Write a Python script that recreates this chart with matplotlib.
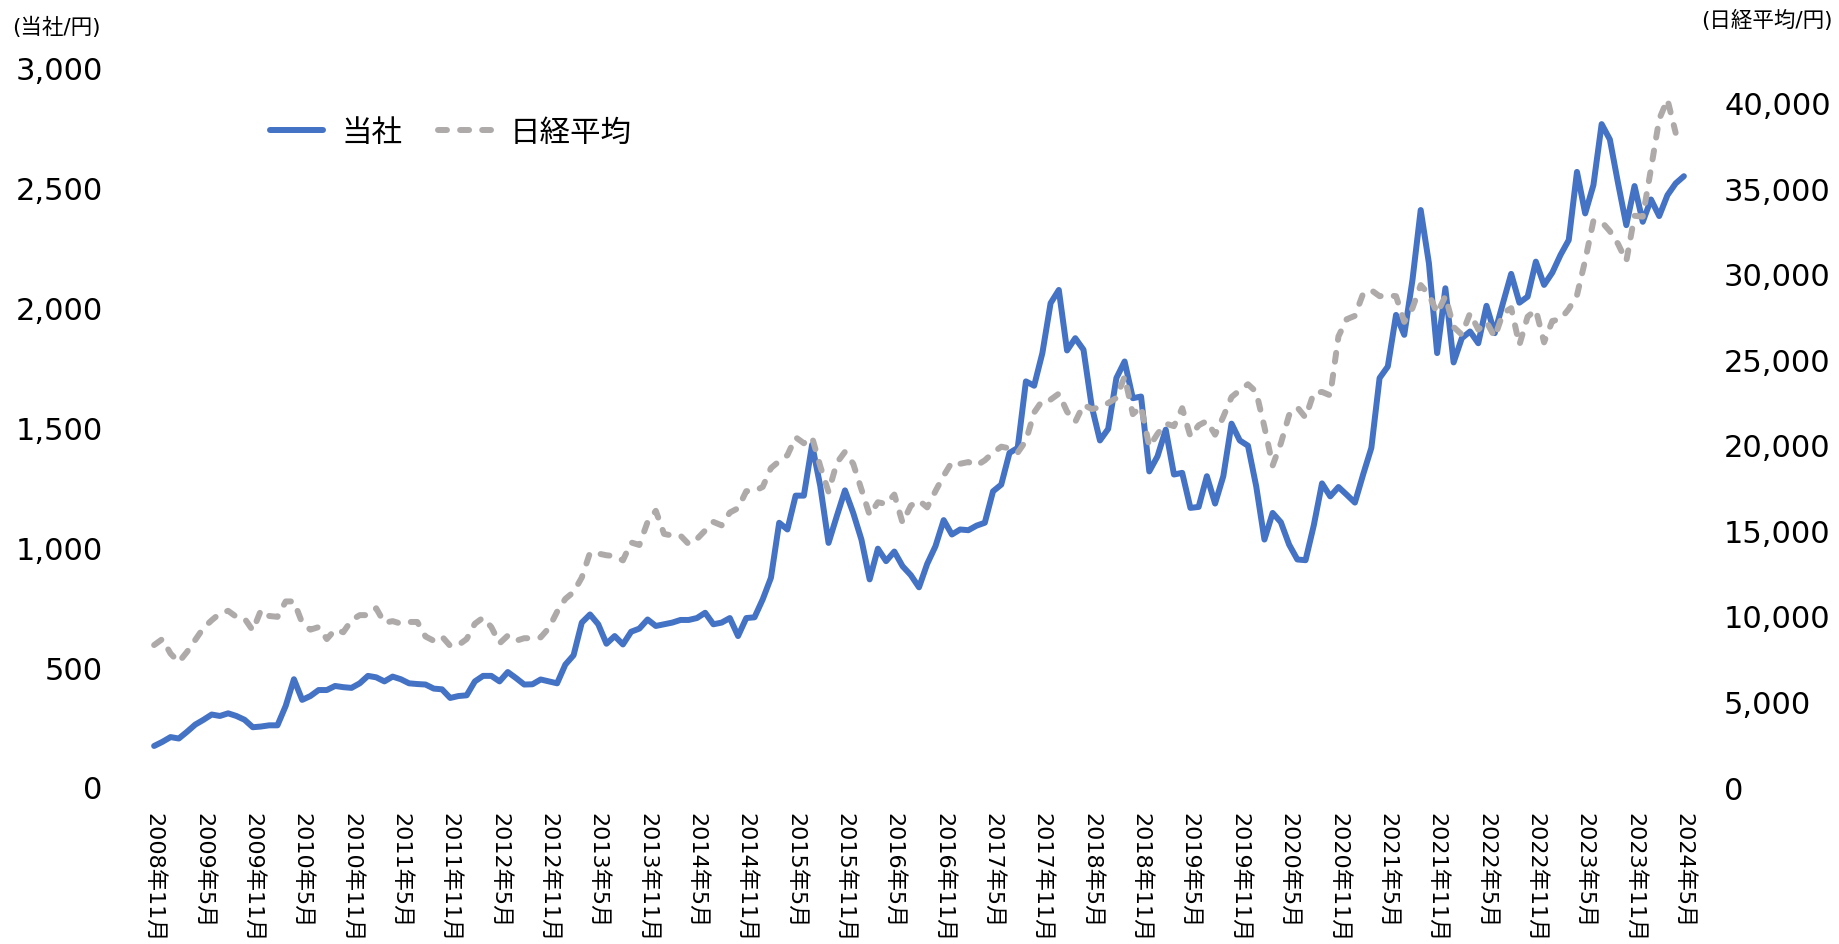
import numpy as np
import pandas as pd
import matplotlib
matplotlib.use("Agg")
from matplotlib import pyplot as plt

plt.rcParams['font.family'] = ['DejaVu Sans', 'Noto Sans CJK JP']

# monthly, 2008-11 .. 2024-05
months = pd.date_range("2008-11-01", "2024-05-01", freq="MS")

company = [
    171, 188,                                                         # 2008 Nov-Dec
    208, 202, 230, 260, 280, 302, 296, 307, 296, 280, 249, 252,       # 2009
    257, 257, 338, 449, 363, 379, 404, 404, 421, 416, 413, 432,       # 2010
    463, 457, 440, 460, 449, 432, 429, 427, 410, 407, 371, 379,       # 2011
    382, 440, 463, 463, 440, 479, 454, 427, 428, 448, 440, 432,       # 2012
    510, 549, 685, 719, 678, 597, 629, 594, 647, 660, 698, 671,       # 2013
    678, 685, 696, 696, 704, 726, 678, 685, 704, 629, 704, 707,       # 2014
    782, 872, 1101, 1073, 1214, 1214, 1426, 1253, 1017, 1128, 1236, 1142,   # 2015
    1031, 865, 993, 941, 981, 920, 883, 832, 930, 1003, 1112, 1052,         # 2016
    1073, 1070, 1089, 1101, 1232, 1260, 1392, 1413, 1690, 1672, 1808, 2016,  # 2017
    2071, 1819, 1870, 1822, 1586, 1444, 1492, 1704, 1773, 1620, 1627, 1315,  # 2018
    1378, 1489, 1302, 1309, 1163, 1167, 1295, 1181, 1295, 1514, 1444, 1422,  # 2019
    1253, 1031, 1142, 1103, 1010, 948, 945, 1090, 1265, 1211, 1250, 1218,    # 2020
    1185, 1302, 1413, 1704, 1752, 1967, 1884, 2113, 2404, 2182, 1808, 2078,  # 2021
    1769, 1870, 1898, 1849, 2005, 1891, 2016, 2138, 2018, 2043, 2189, 2092,  # 2022
    2143, 2217, 2279, 2563, 2390, 2508, 2762, 2698, 2515, 2341, 2504, 2355,  # 2023
    2448, 2379, 2466, 2515, 2545,                                            # 2024 Jan-May
]

nikkei = [
    8300, 8650,
    7800, 7300, 7900, 8600, 9300, 9750, 10150, 10300, 9950, 9850, 9150, 10350,
    10000, 9950, 10850, 10850, 9600, 9200, 9350, 8650, 9200, 9050, 9750, 10050,
    10050, 10450, 9600, 9700, 9550, 9650, 9650, 8800, 8550, 8800, 8250, 8300,
    8650, 9550, 9900, 9350, 8400, 8850, 8550, 8700, 8700, 8750, 9300, 10250,
    11000, 11400, 12250, 13700, 13650, 13550, 13500, 13250, 14300, 14150, 15500, 16150,
    14800, 14700, 14700, 14200, 14500, 15000, 15500, 15300, 16050, 16300, 17300, 17300,
    17550, 18650, 19050, 19400, 20450, 20100, 20450, 18750, 17250, 18950, 19600, 18900,
    17400, 15900, 16650, 16550, 17100, 15450, 16450, 16750, 16350, 17300, 18200, 19000,
    18900, 19000, 18800, 19100, 19550, 19900, 19800, 19550, 20250, 21900, 22600, 22650,
    23000, 21950, 21350, 22350, 22100, 22200, 22450, 22750, 24000, 21800, 22250, 19900,
    20650, 21250, 21100, 22150, 20500, 21150, 21400, 20600, 21650, 22800, 23200, 23550,
    23100, 21050, 18800, 20100, 21750, 22200, 21600, 23050, 23100, 22900, 26350, 27350,
    27550, 28850, 29050, 28700, 28750, 28700, 27200, 28000, 29350, 28800, 27700, 28700,
    26900, 26450, 27700, 26750, 27200, 26300, 27700, 28000, 25850, 27500, 27900, 26000,
    27250, 27350, 27950, 28750, 30800, 33100, 33050, 32500, 31750, 30750, 33400, 33350,
    36150, 39050, 40200, 38250,
]

tick_pos = list(range(0, len(months), 6))
tick_labels = [f"{months[i].year}年{months[i].month}月" for i in tick_pos]

BLUE = "#4472C4"
GRAY = "#AEAAAA"

W, H = 1839, 945
fig = plt.figure(figsize=(W / 100, H / 100), dpi=100)
left, right, top, bottom = 150, 1688, 68, 788
ax = fig.add_axes([left / W, 1 - bottom / H, (right - left) / W, (bottom - top) / H])
ax2 = ax.twinx()

x = np.arange(len(company))
l1, = ax.plot(x, company, color=BLUE, lw=4.3, solid_joinstyle="round",
              solid_capstyle="round", label="当社")
l2, = ax2.plot(np.arange(len(nikkei)), nikkei, color=GRAY, lw=4.3,
               dashes=(1.5, 2.2), dash_capstyle="round", label="日経平均")

ax.set_xlim(-0.5, len(company) - 0.5)
ax.set_ylim(0, 3000)
ax2.set_ylim(0, 42100)
ax.set_yticks(range(0, 3001, 500))
ax2.set_yticks(range(0, 40001, 5000))
ax.set_yticklabels([f"{v:,}" for v in range(0, 3001, 500)])
ax2.set_yticklabels([f"{v:,}" for v in range(0, 40001, 5000)])
ax.set_xticks(tick_pos)
ax.set_xticklabels(tick_labels, rotation=-90, va="top", ha="center")

for a in (ax, ax2):
    for s in a.spines.values():
        s.set_visible(False)
ax.tick_params(axis="y", length=0, pad=34, labelsize=22)
ax2.tick_params(axis="y", length=0, pad=26, labelsize=22)
ax.tick_params(axis="x", length=0, pad=18, labelsize=16)

fig.text(12 / W, 1 - 27 / H, "(当社/円)", fontsize=15.5, va="center", ha="left")
fig.text(1833 / W, 1 - 20 / H, "(日経平均/円)", fontsize=15.5, va="center", ha="right")

ax.legend(handles=[l1, l2], loc="center left", bbox_to_anchor=(0.078, 0.909),
          ncol=2, frameon=False, fontsize=22, handlelength=1.75, handletextpad=0.6,
          columnspacing=1.15, borderpad=0, borderaxespad=0)

fig.savefig("out.png", dpi=100)
